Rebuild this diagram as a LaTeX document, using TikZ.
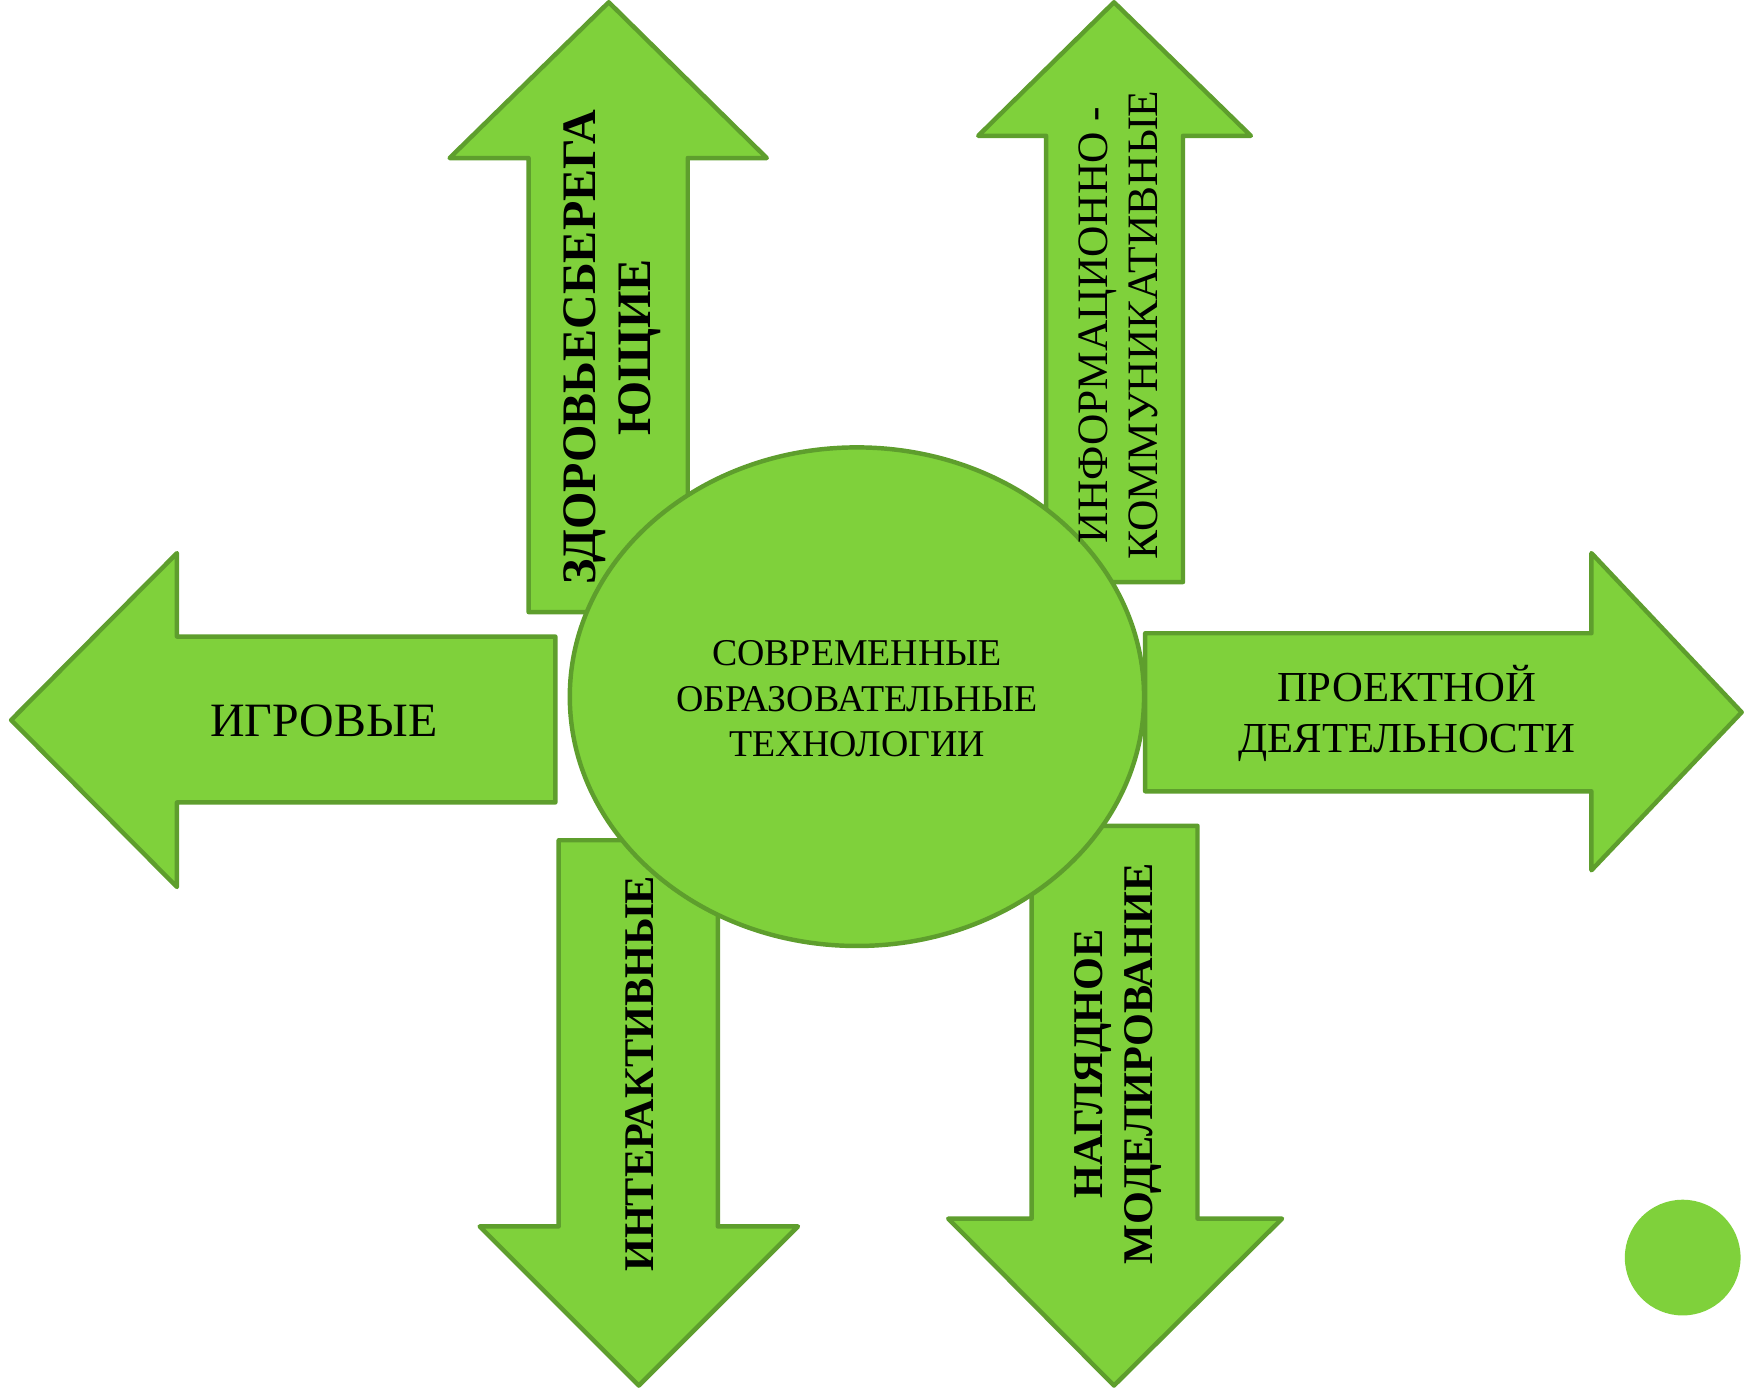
\documentclass[tikz,border=0pt]{standalone}
\usepackage{fontspec}
\setmainfont{Liberation Serif}
\definecolor{gfill}{HTML}{7FD13B}
\definecolor{gline}{HTML}{5E9E2D}
\tikzset{
  arrowshape/.style={fill=gfill,draw=gline,line width=2pt,line join=round},
  lbl/.style={align=center,text=black,inner sep=0pt},
}
\begin{document}
\begin{tikzpicture}[x=0.5pt,y=-0.5pt]
\useasboundingbox (0,0) rectangle (1568,1250);
% up arrow left
\draw[arrowshape] (547,2) -- (689,142) -- (618,142) -- (618,550) -- (475,550) -- (475,142) -- (404,142) -- cycle;
% up arrow right
\draw[arrowshape] (1001,2) -- (1124,122) -- (1063,122) -- (1063,523) -- (940,523) -- (940,122) -- (879,122) -- cycle;
% left arrow
\draw[arrowshape] (10,647) -- (159,497) -- (159,572) -- (499,572) -- (499,721) -- (159,721) -- (159,797) -- cycle;
% right arrow
\draw[arrowshape] (1565,640) -- (1430,497) -- (1430,569) -- (1029,569) -- (1029,711) -- (1430,711) -- (1430,782) -- cycle;
% down arrow left
\draw[arrowshape] (574,1245) -- (717,1102) -- (645,1102) -- (645,755) -- (502,755) -- (502,1102) -- (431,1102) -- cycle;
% down arrow right
\draw[arrowshape] (1001,1245) -- (1152,1095) -- (1076,1095) -- (1076,742) -- (927,742) -- (927,1095) -- (852,1095) -- cycle;
% central ellipse
\draw[fill=gfill,draw=gline,line width=2pt] (770,626) ellipse [x radius=258, y radius=224];
% dot
\fill[gfill] (1512,1130) circle [radius=52];
% texts
\node[lbl,font=\fontsize{17}{20.5}\selectfont] (center) at (770,628) {СОВРЕМЕННЫЕ\\ОБРАЗОВАТЕЛЬНЫЕ\\ТЕХНОЛОГИИ};
\node[lbl,font=\fontsize{21.5}{24}\selectfont] (igr) at (291,648) {ИГРОВЫЕ};
\node[lbl,font=\fontsize{19.2}{23}\selectfont] (proj) at (1264,641) {ПРОЕКТНОЙ\\ДЕЯТЕЛЬНОСТИ};
\node[lbl,rotate=90,font=\fontsize{21.6}{25}\selectfont\bfseries] (zdor) at (550,312) {ЗДОРОВЬЕСБЕРЕГА\\ЮЩИЕ};
\node[lbl,rotate=90,font=\fontsize{19.5}{22.5}\selectfont] (inf) at (1005,292) {ИНФОРМАЦИОННО -\\КОММУНИКАТИВНЫЕ};
\node[lbl,rotate=90,font=\fontsize{19}{22}\selectfont\bfseries] (inter) at (575,965) {ИНТЕРАКТИВНЫЕ};
\node[lbl,rotate=90,font=\fontsize{19}{22.5}\selectfont\bfseries] (nagl) at (1005,956) {НАГЛЯДНОЕ\\МОДЕЛИРОВАНИЕ};
\end{tikzpicture}
\end{document}
